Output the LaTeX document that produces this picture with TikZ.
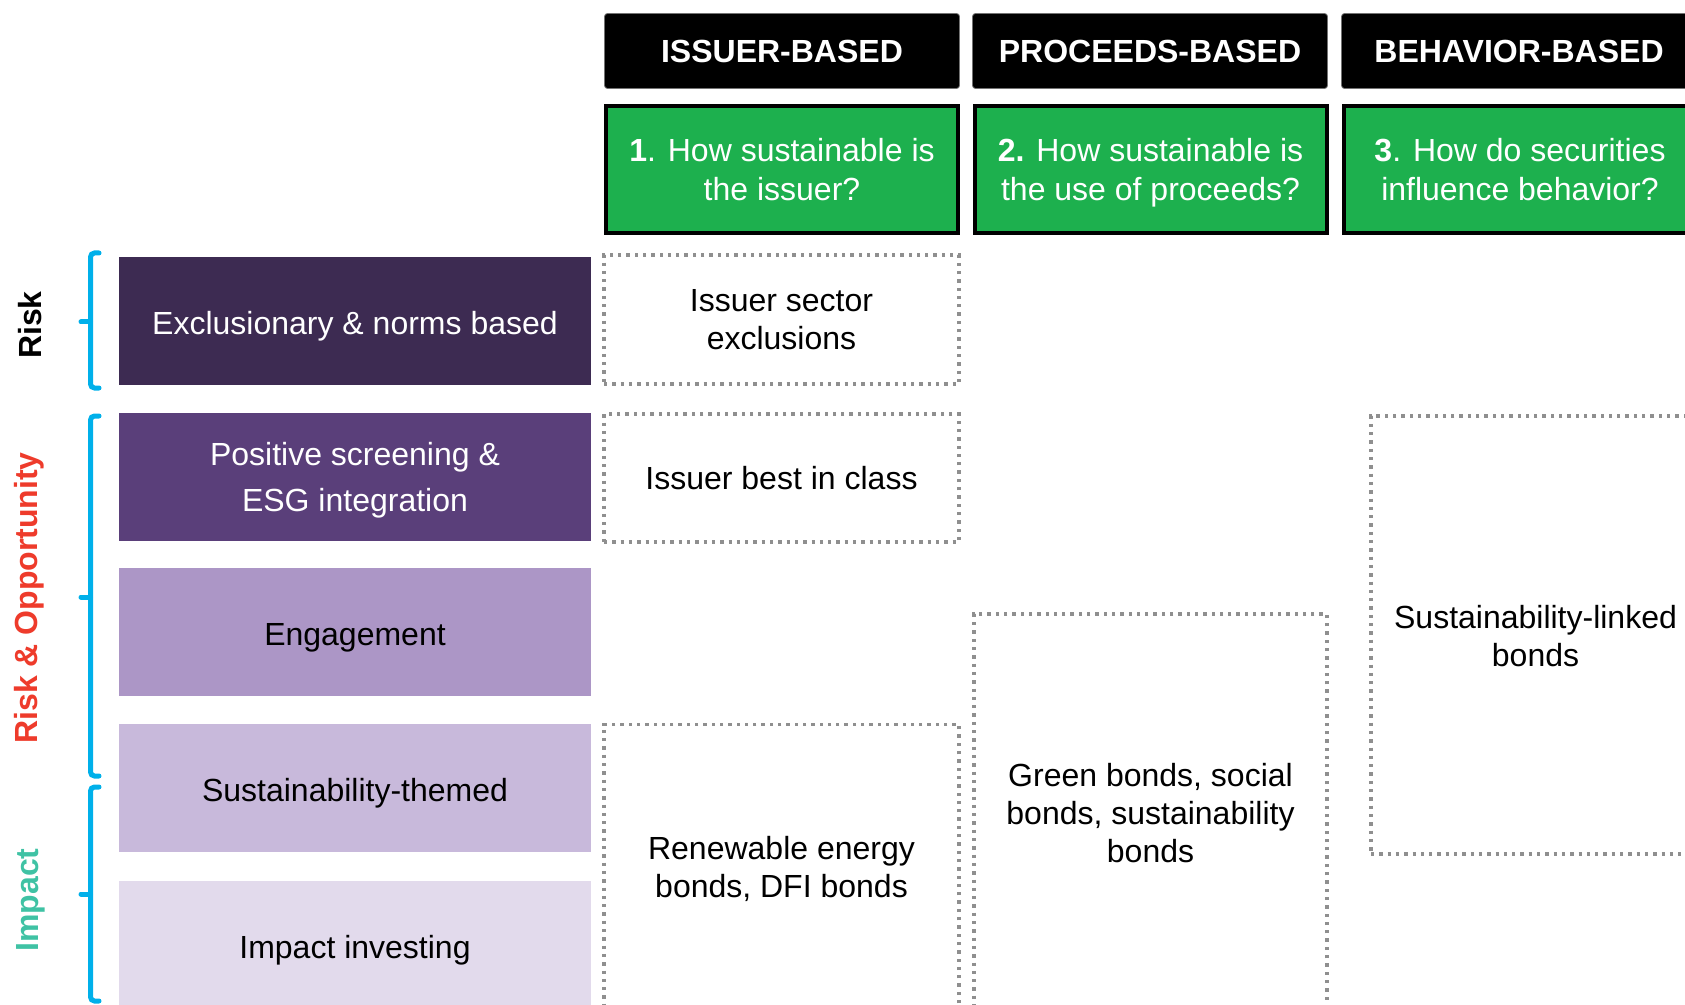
\documentclass[tikz,border=0pt]{standalone}
\usepackage{fontspec}
\setmainfont{Liberation Sans}
\definecolor{qgreen}{HTML}{1DB04E}
\definecolor{pone}{HTML}{3D2B52}
\definecolor{ptwo}{HTML}{5A3F7A}
\definecolor{pthree}{HTML}{AC96C6}
\definecolor{pfour}{HTML}{C8B9DB}
\definecolor{pfive}{HTML}{E2DAEC}
\definecolor{bcyan}{HTML}{00B0EA}
\definecolor{lred}{HTML}{EE3B2B}
\definecolor{lteal}{HTML}{3FC2A4}
\definecolor{dgray}{HTML}{8F8F8F}
\begin{document}
\begin{tikzpicture}[x=0.5pt,y=-0.5pt,
  every node/.style={font=\fontsize{16}{19.2}\selectfont, align=center, inner sep=0pt},
  hdr/.style={fill=black, draw=black!55, line width=0.4pt, rounded corners=1.5pt, text=white,
    font=\fontsize{16}{19.2}\selectfont\bfseries, minimum width=177.5pt, minimum height=37.5pt},
  qbox/.style={fill=qgreen, draw=black, line width=2pt, text=white, minimum width=176pt, minimum height=63.5pt},
  pbox/.style={minimum width=236pt, minimum height=64pt, text height=16.5pt, text depth=3.3pt},
  dbox/.style={draw=dgray, line width=1.65pt, dash pattern=on 1.65pt off 2.5pt},
  brace/.style={draw=bcyan, line width=2.5pt, rounded corners=2pt, line cap=round},
  side/.style={rotate=90, font=\fontsize{16}{19.2}\selectfont\bfseries}
]
\useasboundingbox (0,0) rectangle (1685,1005);
\clip (0,0) rectangle (1685,1005);

% headers
\node[hdr] (hIss) at (782,51) {ISSUER-BASED};
\node[hdr] (hPro) at (1150,51) {PROCEEDS-BASED};
\node[hdr] (hBeh) at (1519,51) {BEHAVIOR-BASED};

% questions
\node[qbox] (qIss) at (782,169.5) {\textbf{1}. How sustainable is\\the issuer?};
\node[qbox] (qPro) at (1150.5,169.5) {\textbf{2.} How sustainable is\\\raisebox{0pt}[\height][0pt]{the use of proceeds?}};
\node[qbox] (qBeh) at (1520,169.5) {\textbf{3}. How do securities\\influence behavior?};

% left strategy boxes
\node[pbox, fill=pone, text=white] (p1) at (355,321) {Exclusionary \& norms based};
\node[pbox, fill=ptwo, text=white, font=\fontsize{16}{23}\selectfont, text height=, text depth=0pt] (p2) at (355,477) {Positive screening \&\\ESG integration};
\node[pbox, fill=pthree, text=black] (p3) at (355,632) {Engagement};
\node[pbox, fill=pfour, text=black] (p4) at (355,788) {Sustainability-themed};
\node[pbox, fill=pfive, text=black] (p5) at (355,945) {Impact investing};

% dotted boxes
\node[dbox, minimum width=177.5pt, minimum height=64.5pt] (d1) at (781.5,319.5) {Issuer sector\\exclusions};
\node[dbox, minimum width=177.5pt, minimum height=64pt] (d2) at (781.5,478) {Issuer best in class};
\node[dbox, minimum width=177.5pt, minimum height=144.5pt] (d3) at (781.5,869) {Renewable energy\\bonds, DFI bonds};
\node[dbox, minimum width=176.5pt, minimum height=199pt] (d4) at (1150.5,813) {Green bonds, social\\bonds, sustainability\\bonds};
\node[dbox, minimum width=164.5pt, minimum height=219pt] (d5) at (1535.5,635) {};
\node (d5t) at (1535.5,636) {Sustainability-linked\\bonds};

% braces
\draw[brace] (99,253) -- (90.5,253) -- (90.5,388) -- (99,388);
\draw[brace, rounded corners=0pt] (90.5,322) -- (81,322);
\draw[brace] (99,416) -- (90.5,416) -- (90.5,776) -- (99,776);
\draw[brace, rounded corners=0pt] (90.5,597) -- (81,597);
\draw[brace] (99,787) -- (90.5,787) -- (90.5,1001) -- (99,1001);
\draw[brace, rounded corners=0pt] (90.5,894) -- (81,894);

% side labels
\node[side, text=black] (lRisk) at (30,325) {Risk};
\node[side, text=lred] (lRO) at (29,598) {Risk \& Opportunity};
\node[side, text=lteal] (lImp) at (31,900) {Impact};
\end{tikzpicture}
\end{document}
